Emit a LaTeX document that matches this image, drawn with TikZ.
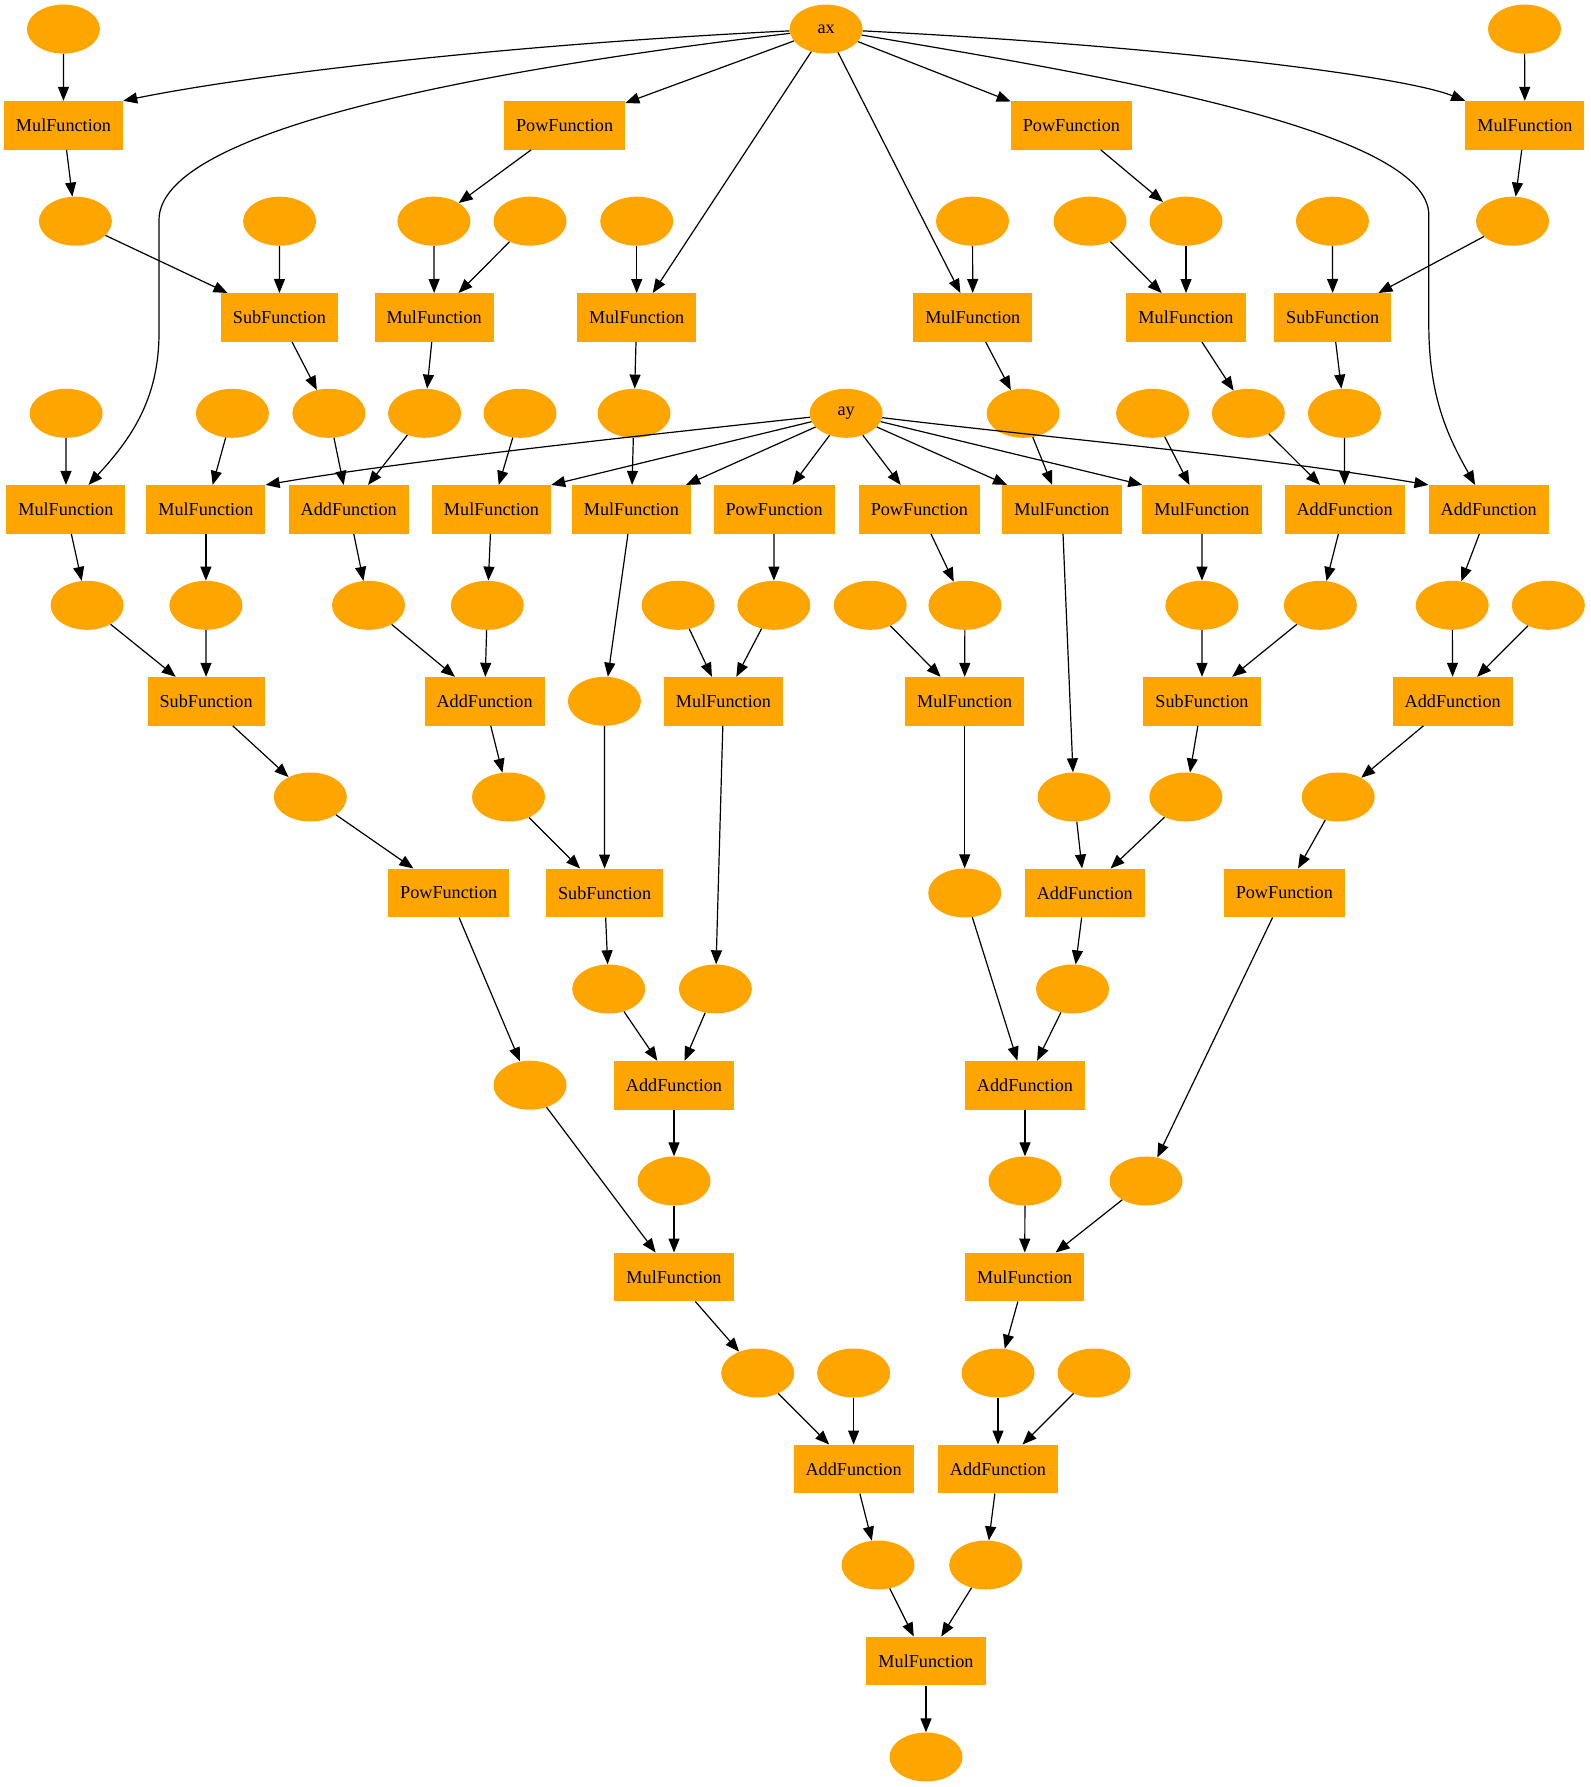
\documentclass[tikz,border=0pt]{standalone}
\usepackage{fontspec}
\setmainfont{Liberation Serif}
\usetikzlibrary{shapes.geometric,arrows.meta}
\definecolor{gvorange}{RGB}{255,165,0}
\begin{document}
\begin{tikzpicture}[x=1pt,y=-1pt,
  every node/.style={font=\fontsize{18.2}{22}\selectfont},
  val/.style={ellipse, fill=gvorange, minimum width=73pt, minimum height=49pt, inner sep=0pt},
  fn/.style={rectangle, fill=gvorange, minimum height=48.6pt, inner xsep=12pt, inner ysep=0pt},
  link/.style={line width=1.2pt, -{Triangle[length=14pt,width=11pt]}}]
\useasboundingbox (0,0) rectangle (1590,1787);

% row 1
\node[val] (i1) at (63.4,29.1) {};
\node[val] (ax) at (826.1,29.1) {ax};
\node[val] (i2) at (1524.5,29.1) {};
% row 2
\node[fn] (f2a) at (63.5,125.3) {MulFunction};
\node[fn] (f2b) at (564.6,125.3) {PowFunction};
\node[fn] (f2c) at (1071.4,125.3) {PowFunction};
\node[fn] (f2d) at (1524.9,125.3) {MulFunction};
% row 3
\foreach \n/\x in {v3a/75.4, v3b/279.6, v3c/433.9, v3d/530, v3e/636.7, v3f/972.5, v3g/1090, v3h/1186, v3i/1332.4, v3j/1512.5}
  \node[val] (\n) at (\x,221.2) {};
% row 4
\node[fn] (f4a) at (279.4,317.5) {SubFunction};
\node[fn] (f4b) at (434.2,317.5) {MulFunction};
\node[fn] (f4c) at (636.7,317.5) {MulFunction};
\node[fn] (f4d) at (972.8,317.5) {MulFunction};
\node[fn] (f4e) at (1186,317.5) {MulFunction};
\node[fn] (f4f) at (1332.7,317.5) {SubFunction};
% row 5
\foreach \n/\x in {v5a/66.1, v5b/232.4, v5c/328.9, v5d/424.6, v5e/520, v5f/634, v5h/1023.1, v5i/1152.6, v5j/1248.3, v5k/1344.4}
  \node[val] (\n) at (\x,413.3) {};
\node[val] (ay) at (846.1,413.3) {ay};
% row 6
\node[fn] (f6a) at (65.9,509.4) {MulFunction};
\node[fn] (f6b) at (205.9,509.4) {MulFunction};
\node[fn] (f6c) at (348.7,509.4) {AddFunction};
\node[fn] (f6d) at (491.5,509.4) {MulFunction};
\node[fn] (f6e) at (631.4,509.4) {MulFunction};
\node[fn] (f6f) at (774.1,509.4) {PowFunction};
\node[fn] (f6g) at (919.3,509.4) {PowFunction};
\node[fn] (f6h) at (1062,509.4) {MulFunction};
\node[fn] (f6i) at (1202,509.4) {MulFunction};
\node[fn] (f6j) at (1344.6,509.4) {AddFunction};
\node[fn] (f6k) at (1488.7,509.4) {AddFunction};
% row 7
\foreach \n/\x in {v7a/87.1, v7b/205.9, v7c/368.5, v7d/487.3, v7e/678.1, v7f/773.8, v7g/870.2, v7h/964.9, v7i/1201.9, v7j/1320.3, v7k/1452.2, v7l/1548.3}
  \node[val] (\n) at (\x,605.3) {};
% row 8
\node[fn] (f8a) at (206.1,701.3) {SubFunction};
\node[fn] (f8b) at (484.6,701.3) {AddFunction};
\node[val] (v8c) at (604.4,701.3) {};
\node[fn] (f8d) at (723.5,701.3) {MulFunction};
\node[fn] (f8e) at (964.7,701.3) {MulFunction};
\node[fn] (f8f) at (1202,701.3) {SubFunction};
\node[fn] (f8g) at (1452.7,701.3) {AddFunction};
% row 9
\foreach \n/\x in {v9a/310.3, v9b/508.5, v9c/1074, v9d/1185.8, v9e/1338.2}
  \node[val] (\n) at (\x,797) {};
% row 10
\node[fn] (f10a) at (448.7,893) {PowFunction};
\node[fn] (f10b) at (604.6,893) {SubFunction};
\node[val] (v10c) at (964.7,893) {};
\node[fn] (f10d) at (1084.8,893) {AddFunction};
\node[fn] (f10e) at (1284.3,893) {PowFunction};
% row 11
\foreach \n/\x in {v11a/608.7, v11b/715.4, v11c/1072.5}
  \node[val] (\n) at (\x,989) {};
% row 12
\node[val] (v12a) at (530,1085.2) {};
\node[fn] (f12b) at (674,1085.2) {AddFunction};
\node[fn] (f12c) at (1025,1085.2) {AddFunction};
% row 13
\foreach \n/\x in {v13a/674, v13b/1025, v13c/1146}
  \node[val] (\n) at (\x,1181) {};
% row 14
\node[fn] (f14a) at (674,1277) {MulFunction};
\node[fn] (f14b) at (1024.7,1277) {MulFunction};
% row 15
\foreach \n/\x in {v15a/757.7, v15b/853.6, v15c/998, v15d/1094}
  \node[val] (\n) at (\x,1373) {};
% row 16
\node[fn] (f16a) at (853.6,1469) {AddFunction};
\node[fn] (f16b) at (998,1469) {AddFunction};
% row 17
\node[val] (v17a) at (878,1565) {};
\node[val] (v17b) at (985.7,1565) {};
% row 18
\node[fn] (f18) at (926,1661) {MulFunction};
% row 19
\node[val] (v19) at (926,1757) {};

% straight connectors
\foreach \a/\b in {i1/f2a, i2/f2d, ax/f2b, ax/f4c, ax/f4d, ax/f2c,
  f2a/v3a, v3a/f4a, v3b/f4a, f2b/v3c, v3c/f4b, v3d/f4b, v3e/f4c, v3f/f4d,
  f2c/v3h, v3g/f4e, v3h/f4e, v3i/f4f, f2d/v3j, v3j/f4f,
  f4a/v5c, f4b/v5d, f4c/v5f, f4d/v5h, f4e/v5j, f4f/v5k,
  v5a/f6a, v5b/f6b, v5c/f6c, v5d/f6c, v5e/f6d, v5f/f6e, v5h/f6h, v5i/f6i, v5j/f6j, v5k/f6j,
  ay/f6e, ay/f6f, ay/f6g, ay/f6h,
  f6a/v7a, f6b/v7b, f6c/v7c, f6d/v7d, f6e/v8c, f6f/v7f, f6g/v7h, f6h/v9c, f6i/v7i, f6j/v7j, f6k/v7k,
  v7a/f8a, v7b/f8a, v7c/f8b, v7d/f8b, v7e/f8d, v7f/f8d, v7g/f8e, v7h/f8e, v7i/f8f, v7j/f8f, v7k/f8g, v7l/f8g,
  f8a/v9a, f8b/v9b, f8d/v11b, f8e/v10c, f8f/v9d, f8g/v9e,
  v9a/f10a, v9b/f10b, v8c/f10b, v9c/f10d, v9d/f10d, v9e/f10e,
  f10a/v12a, f10b/v11a, f10d/v11c, f10e/v13c, v10c/f12c,
  v11a/f12b, v11b/f12b, v11c/f12c,
  f12b/v13a, f12c/v13b,
  v12a/f14a, v13a/f14a, v13b/f14b, v13c/f14b,
  f14a/v15a, f14b/v15c,
  v15a/f16a, v15b/f16a, v15c/f16b, v15d/f16b,
  f16a/v17a, f16b/v17b, v17a/f18, v17b/f18, f18/v19}
  \draw[link] (\a) -- (\b);

% connectors that meet a corner of their box
\draw[link] (ay) -- (f6d.north east);
\draw[link] (ay) -- (f6i.north west);

% curved connectors from ax
\draw[link] (ax) .. controls (500,45) and (250,75) .. (f2a.north east);
\draw[link] (ax) .. controls (1150,45) and (1400,75) .. (f2d.north west);
\draw[link] (ax) .. controls (480,70) and (159,130) .. (159,220) -- (159,333)
  .. controls (159,400) and (130,440) .. (f6a);
\draw[link] (ax) .. controls (1100,75) and (1428.8,130) .. (1428.8,215) -- (1428.8,325)
  .. controls (1428.8,400) and (1450,440) .. (f6k);

% curved connectors from ay
\draw[link] (ay) .. controls (600,440) and (400,462) .. (f6b.north east);
\draw[link] (ay) .. controls (1050,438) and (1250,455) .. (f6k.north west);
\end{tikzpicture}
\end{document}
